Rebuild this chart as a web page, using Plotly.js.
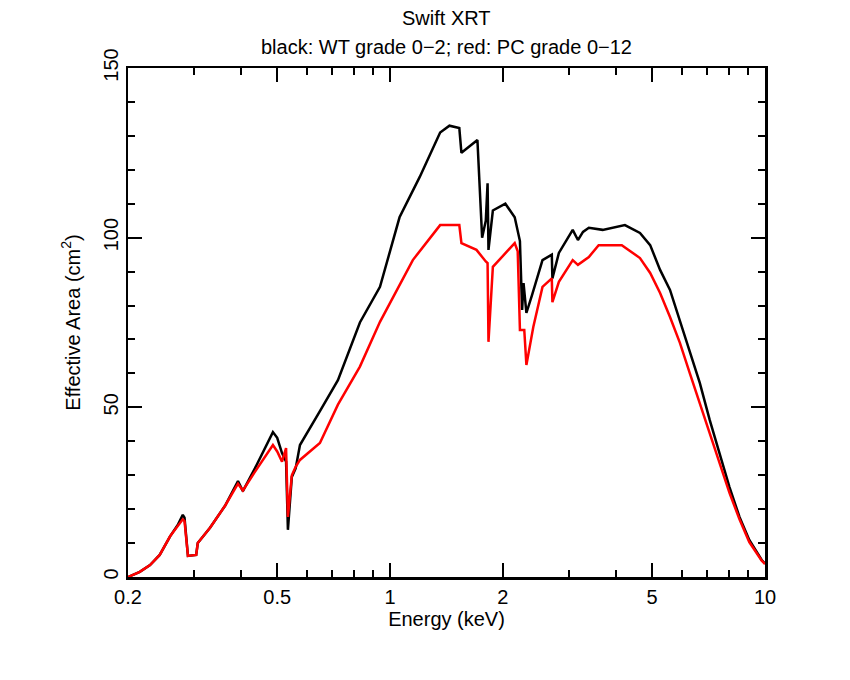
<!DOCTYPE html>
<html><head><meta charset="utf-8">
<script src="https://cdn.plot.ly/plotly-3.0.1.min.js"></script>
<style>body{margin:0;background:#fff}</style></head>
<body><div id="c" style="width:850px;height:680px"></div>
<script>
const energyWT = [0.2,0.215,0.229,0.243,0.259,0.272,0.280,0.283,0.289,0.304,0.307,0.331,0.363,0.393,0.405,0.436,0.487,0.500,0.515,0.528,0.534,0.547,0.560,0.575,0.650,0.726,0.831,0.94,1.06,1.20,1.36,1.44,1.53,1.55,1.71,1.76,1.80,1.82,1.83,1.88,2.03,2.15,2.22,2.25,2.27,2.31,2.39,2.55,2.70,2.71,2.82,3.07,3.17,3.27,3.39,3.69,4.23,4.64,4.94,5.25,5.58,5.93,6.3,6.7,7.12,7.57,8.04,8.55,9.08,9.8,10];
const areaWT   = [0,1.5,3.5,6.5,12,15.5,18.3,17.5,6.2,6.5,10,14.5,21,28.3,25.3,32,42.7,41,36.5,34,13.9,29.5,32,38.9,48.9,58,75,85.5,106,117.9,131,133,132.3,125,128.8,100,105,116,96.4,108,110,106,99,78.7,86.6,77.8,83,93.4,95,88,95.5,102.3,99.3,101.7,102.9,102.3,103.7,101.4,97.8,90.5,84.6,75.7,66.9,57.2,46.3,36.5,26.5,17.7,10.9,5.0,4.0];
const energyPC = [0.2,0.215,0.229,0.243,0.259,0.272,0.280,0.283,0.289,0.304,0.307,0.331,0.363,0.393,0.405,0.436,0.487,0.500,0.515,0.528,0.534,0.547,0.560,0.575,0.650,0.726,0.831,0.94,1.15,1.36,1.53,1.55,1.70,1.80,1.82,1.83,1.88,2.15,2.19,2.22,2.28,2.31,2.41,2.55,2.70,2.71,2.82,3.07,3.17,3.39,3.60,4.15,4.64,4.94,5.25,5.58,5.93,6.3,6.7,7.12,7.57,8.04,8.55,9.08,9.8,10];
const areaPC   = [0,1.5,3.5,6.5,12,15,17,16.5,6.2,6.5,10,14.5,21,27.5,25.5,31,38.9,37,34,38,17.7,30,32.5,34.5,39.5,50.8,62,75.2,93.4,103.7,103.7,98.4,96.4,93,92.5,69.3,91.4,98.4,96,72.8,72.8,62.5,73.7,85.5,88,81,87,93.4,92,94.3,97.8,97.8,94,89.6,83.7,76.6,69,60.1,51.3,42.4,33.6,24.8,17.0,10.3,4.8,3.8];
const xTicks = [0.2,0.5,1,2,5,10];
const xTickText = ['0.2','0.5','1','2','5','10'];
const xMinor = [0.3,0.4,0.6,0.7,0.8,0.9,3,4,6,7,8,9];
const yTicks = [0,50,100,150];

const font = {family:'Liberation Sans, Arial, sans-serif', size:20, color:'#000'};
const ax = {showgrid:false, zeroline:false, showline:true, mirror:'allticks', linewidth:2.5, linecolor:'#000',
  ticks:'inside', ticklen:14, tickwidth:2, tickcolor:'#000', tickfont:font};
Plotly.newPlot('c', [
  {x:energyWT, y:areaWT, mode:'lines', line:{color:'#000', width:2.5}},
  {x:energyPC, y:areaPC, mode:'lines', line:{color:'#ff0000', width:2.5}}
], {
  width:850, height:680, showlegend:false, plot_bgcolor:'#fff', paper_bgcolor:'#fff',
  margin:{l:128, r:85, t:68, b:103}, font:font,
  xaxis:Object.assign({}, ax, {type:'log', range:[Math.log10(0.2), 1], tickvals:xTicks, ticktext:xTickText,
    minor:{tickvals:xMinor, ticks:'inside', ticklen:7, tickwidth:2, tickcolor:'#000'},
    title:{text:'Energy (keV)', font:font, standoff:6}}),
  yaxis:Object.assign({}, ax, {range:[0,150], tickvals:yTicks, tickangle:-90,
    minor:{dtick:10, ticks:'inside', ticklen:7, tickwidth:2, tickcolor:'#000'},
    title:{text:'Effective Area (cm<sup>2</sup>)', font:font, standoff:14}}),
  annotations:[
    {text:'Swift XRT', xref:'paper', yref:'paper', x:0.5, y:1, yanchor:'middle', yshift:50, showarrow:false, font:font},
    {text:'black: WT grade 0\u22122; red: PC grade 0\u221212', xref:'paper', yref:'paper', x:0.5, y:1, yanchor:'middle', yshift:21, showarrow:false, font:font}
  ]
}, {staticPlot:true});
</script></body></html>
